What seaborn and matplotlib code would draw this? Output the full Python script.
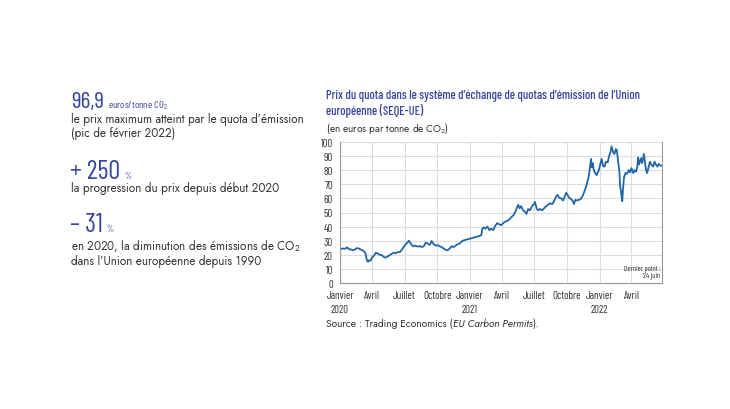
import matplotlib
matplotlib.use("Agg")
import matplotlib.pyplot as plt
import seaborn as sns
import pandas as pd

# ---- data ----
dates = [
    "2020-01-02", "2020-01-09", "2020-01-15", "2020-01-21", "2020-01-26", "2020-02-01", "2020-02-07",
    "2020-02-12", "2020-02-18", "2020-02-24", "2020-03-01", "2020-03-06", "2020-03-12", "2020-03-17",
    "2020-03-20", "2020-03-23", "2020-03-27", "2020-03-31", "2020-04-06", "2020-04-11", "2020-04-17",
    "2020-04-22", "2020-04-28", "2020-05-03", "2020-05-09", "2020-05-14", "2020-05-20", "2020-05-25",
    "2020-05-31", "2020-06-06", "2020-06-11", "2020-06-17", "2020-06-23", "2020-06-28", "2020-07-04",
    "2020-07-10", "2020-07-13", "2020-07-17", "2020-07-21", "2020-07-27", "2020-08-01", "2020-08-07",
    "2020-08-13", "2020-08-18", "2020-08-24", "2020-08-29", "2020-09-04", "2020-09-10", "2020-09-15",
    "2020-09-21", "2020-09-27", "2020-10-02", "2020-10-08", "2020-10-13", "2020-10-19", "2020-10-25",
    "2020-10-30", "2020-11-05", "2020-11-10", "2020-11-16", "2020-11-22", "2020-11-27", "2020-12-03",
    "2020-12-09", "2020-12-14", "2021-01-30", "2021-02-02", "2021-02-05", "2021-02-08", "2021-02-13",
    "2021-02-19", "2021-02-25", "2021-03-02", "2021-03-08", "2021-03-13", "2021-03-19", "2021-03-25",
    "2021-03-30", "2021-04-05", "2021-04-10", "2021-04-16", "2021-04-22", "2021-04-27", "2021-05-03",
    "2021-05-09", "2021-05-14", "2021-05-17", "2021-05-21", "2021-05-25", "2021-05-31", "2021-06-05",
    "2021-06-09", "2021-06-14", "2021-06-19", "2021-06-25", "2021-07-01", "2021-07-03", "2021-07-08",
    "2021-07-12", "2021-07-18", "2021-07-23", "2021-07-29", "2021-08-04", "2021-08-09", "2021-08-15",
    "2021-08-21", "2021-08-26", "2021-09-01", "2021-09-05", "2021-09-09", "2021-09-15", "2021-09-20",
    "2021-09-26", "2021-09-29", "2021-10-03", "2021-10-07", "2021-10-13", "2021-10-18", "2021-10-21",
    "2021-10-25", "2021-10-29", "2021-11-04", "2021-11-09", "2021-11-15", "2021-11-21", "2021-11-26",
    "2021-12-02", "2021-12-05", "2021-12-08", "2021-12-10", "2021-12-13", "2021-12-16", "2021-12-20",
    "2021-12-24", "2021-12-30", "2022-01-03", "2022-01-07", "2022-01-11", "2022-01-15", "2022-01-19",
    "2022-01-24", "2022-01-28", "2022-02-01", "2022-02-04", "2022-02-08", "2022-02-12", "2022-02-16",
    "2022-02-19", "2022-02-22", "2022-02-26", "2022-02-28", "2022-03-03", "2022-03-06", "2022-03-08",
    "2022-03-11", "2022-03-15", "2022-03-20", "2022-03-24", "2022-03-28", "2022-04-01", "2022-04-06",
    "2022-04-10", "2022-04-14", "2022-04-17", "2022-04-20", "2022-04-22", "2022-04-25", "2022-04-28",
    "2022-05-01", "2022-05-04", "2022-05-06", "2022-05-09", "2022-05-12", "2022-05-15", "2022-05-19",
    "2022-05-23", "2022-05-27", "2022-06-01", "2022-06-05", "2022-06-09", "2022-06-13", "2022-06-17",
    "2022-06-24",
]
prices = [
    24.0, 24.5, 24.2, 25.3, 24.0, 23.8, 23.2,
    23.8, 24.8, 24.3, 23.5, 23.0, 21.5, 16.0,
    15.0, 16.2, 15.8, 18.0, 19.5, 21.5, 20.8,
    20.0, 19.8, 18.5, 18.0, 18.8, 19.8, 20.5,
    21.5, 21.0, 22.0, 21.8, 23.5, 25.5, 27.5,
    29.0, 30.0, 28.5, 26.8, 26.0, 26.5, 25.8,
    26.2, 25.5, 26.0, 28.5, 28.0, 27.0, 29.8,
    27.5, 26.5, 26.8, 26.0, 25.5, 24.5, 23.5,
    23.2, 24.5, 26.0, 25.5, 26.5, 27.5, 28.0,
    29.5, 30.2, 33.5, 34.0, 38.5, 39.5, 38.5,
    40.0, 37.5, 38.5, 37.5, 40.5, 42.5, 41.5,
    41.0, 42.5, 43.5, 44.0, 45.0, 46.5, 48.0,
    50.5, 54.0, 55.5, 53.0, 54.5, 51.5, 50.5,
    49.0, 52.5, 51.5, 54.5, 56.0, 57.5, 53.0,
    51.5, 52.5, 51.5, 53.0, 54.5, 55.5, 56.5,
    56.0, 58.0, 61.5, 62.5, 60.5, 60.0, 58.5,
    62.0, 64.0, 62.5, 60.5, 59.5, 58.0, 56.0,
    59.0, 58.5, 59.0, 59.5, 62.0, 66.0, 70.0,
    76.0, 82.0, 88.0, 82.0, 85.0, 80.0, 78.0,
    76.5, 80.0, 84.0, 88.0, 83.0, 82.5, 86.0,
    85.5, 90.0, 93.0, 96.9, 93.0, 91.5, 95.0,
    94.0, 87.0, 79.0, 69.0, 64.0, 58.0, 66.0,
    75.0, 78.0, 77.5, 80.0, 78.5, 81.5, 78.0,
    80.0, 79.0, 82.0, 89.0, 84.0, 86.0, 88.5,
    85.0, 89.0, 91.5, 86.0, 80.0, 78.0, 82.0,
    86.0, 84.0, 82.5, 86.0, 84.0, 82.5, 84.5,
    83.0,
]
tick_dates = ["2020-01-01", "2020-04-01", "2020-07-01", "2020-10-01", "2021-01-01", "2021-04-01",
              "2021-07-01", "2021-10-01", "2022-01-01", "2022-04-01"]
tick_labels = ["Janvier\n2020", "Avril", "Juillet", "Octobre", "Janvier\n2021", "Avril",
               "Juillet", "Octobre", "Janvier\n2022", "Avril"]
y_ticks = list(range(0, 101, 10))

df = pd.DataFrame({"date": pd.to_datetime(dates), "prix": prices})

# ---- style ----
sns.set_theme(style="white")
plt.rcParams["font.family"] = ["Jost", "Lato", "DejaVu Sans"]
plt.rcParams["mathtext.default"] = "regular"

BLUE = "#3446a0"
TXT = "#333333"
LINE = "#2266a8"
NARROW = ["Barlow Condensed", "Roboto Condensed", "DejaVu Sans"]
BODY = ["Jost", "Lato", "DejaVu Sans"]

fig = plt.figure(figsize=(7.3, 4.1), dpi=100)
W, H = 730, 410
ax = fig.add_axes([340 / W, 1 - 284 / H, (662 - 340) / W, (284 - 143) / H])

sns.lineplot(data=df, x="date", y="prix", ax=ax, color=LINE, linewidth=1.3)

ax.set_xlim(pd.Timestamp("2020-01-01"), pd.Timestamp("2022-06-26"))
ax.set_ylim(0, 100)
ax.set_yticks(y_ticks)
ax.set_yticklabels([str(v) for v in y_ticks], fontsize=7.8, color=TXT, family=NARROW)
ax.set_xticks(pd.to_datetime(tick_dates))
ax.set_xticklabels(tick_labels, fontsize=7.8, color=TXT, family=NARROW, linespacing=1.55)
ax.set_xlabel("")
ax.set_ylabel("")
ax.grid(True, color="#dcdcdc", linewidth=0.8)
ax.set_axisbelow(True)
ax.tick_params(axis="both", length=3, width=0.6, color="#bbbbbb", pad=2)
for s in ["left", "bottom", "right"]:
    ax.spines[s].set_color("#999999")
    ax.spines[s].set_linewidth(0.8)
ax.spines["top"].set_visible(False)

ax.text(0.995, 0.025, "Dernier point :\n24 juin", transform=ax.transAxes, ha="right", va="bottom",
        fontsize=5.5, color=TXT, family=NARROW, linespacing=1.0)

# ---- chart title block ----
fig.text(326 / W, 1 - 96 / H, "Prix du quota dans le système d’échange de quotas d’émission de l’Union",
         fontsize=9, color=BLUE, family=NARROW, fontweight="medium", va="center", ha="left")
fig.text(326 / W, 1 - 111 / H, "européenne (SEQE-UE)", fontsize=9, color=BLUE, family=NARROW,
         fontweight="medium", va="center", ha="left")
fig.text(326 / W, 1 - 128 / H, "(en euros par tonne de CO$_2$)", fontsize=7.2, color=TXT, family=BODY,
         va="center", ha="left")

fig.canvas.draw()
r = fig.canvas.get_renderer()

t1 = fig.text(326 / W, 1 - 324 / H, "Source : Trading Economics (", fontsize=7.3, color=TXT,
              family=BODY, va="center", ha="left")
bb = t1.get_window_extent(r)
t2 = fig.text(bb.x1 / fig.bbox.width, 1 - 324 / H, "EU Carbon Permits", fontsize=7.3, color=TXT,
              family=BODY, style="italic", va="center", ha="left")
bb2 = t2.get_window_extent(r)
fig.text(bb2.x1 / fig.bbox.width, 1 - 324 / H, ").", fontsize=7.3, color=TXT, family=BODY,
         va="center", ha="left")

# ---- left key figures ----
def big(x, y, s, small, fs=19, sfs=7.5):
    t = fig.text(x / W, 1 - y / H, s, fontsize=fs, color=BLUE, family=NARROW, va="baseline",
                 ha="left", fontweight="normal")
    b = t.get_window_extent(r)
    fig.text(b.x1 / fig.bbox.width + 4 / W, 1 - y / H, small, fontsize=sfs, color=BLUE,
             family=NARROW, va="baseline", ha="left")

BFS = 8.4
big(71, 108, "96,9", "euros/tonne CO$_2$", fs=17)
fig.text(71 / W, 1 - 119 / H, "le prix maximum atteint par le quota d’émission", fontsize=BFS,
         color=TXT, family=BODY, va="center", ha="left")
fig.text(71 / W, 1 - 133 / H, "(pic de février 2022)", fontsize=BFS, color=TXT, family=BODY,
         va="center", ha="left")

big(70, 179, "+ 250", "%", sfs=6.5)
fig.text(71 / W, 1 - 189 / H, "la progression du prix depuis début 2020", fontsize=BFS,
         color=TXT, family=BODY, va="center", ha="left")

big(70, 232, "– 31", "%", sfs=6.5)
fig.text(71 / W, 1 - 246 / H, "en 2020, la diminution des émissions de CO$_2$", fontsize=BFS,
         color=TXT, family=BODY, va="center", ha="left")
fig.text(71 / W, 1 - 261 / H, "dans l’Union européenne depuis 1990", fontsize=BFS, color=TXT,
         family=BODY, va="center", ha="left")

fig.savefig("out.png", dpi=100)
